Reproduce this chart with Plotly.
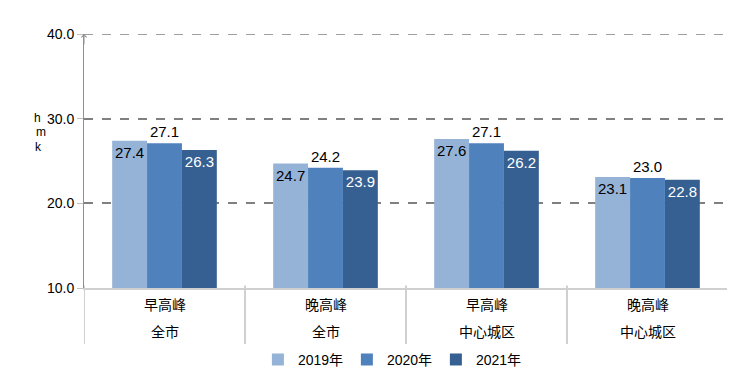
import plotly.graph_objects as go

periods = ["早高峰", "晚高峰", "早高峰", "晚高峰"]
areas = ["全市", "全市", "中心城区", "中心城区"]
years = ["2019年", "2020年", "2021年"]
v2019 = [27.4, 24.7, 27.6, 23.1]
v2020 = [27.1, 24.2, 27.1, 23.0]
v2021 = [26.3, 23.9, 26.2, 22.8]
y_ticks = [10, 20, 30, 40]

colors = ["#95B3D7", "#4F81BD", "#376092"]
FONT = "Liberation Sans, Arial, Noto Sans CJK SC, sans-serif"
xs = list(range(len(periods)))

fig = go.Figure()
series = [v2019, v2020, v2021]
pos = ["inside", "outside", "inside"]
tcol = ["#000000", "#000000", "#FFFFFF"]
for name, vals, c, p, tc in zip(years, series, colors, pos, tcol):
    fig.add_trace(go.Bar(
        x=xs, y=vals, name=name, marker=dict(color=c, line=dict(width=0)),
        text=[f"{v:.1f}" for v in vals], texttemplate="%{text}",
        textposition=p, insidetextanchor="end", textangle=0, cliponaxis=False,
        constraintext="none",
        textfont=dict(size=15, color=tc, family=FONT),
        outsidetextfont=dict(size=15, color=tc, family=FONT),
        insidetextfont=dict(size=15, color=tc, family=FONT),
    ))

L, R, T, B = 76, 15, 26, 104
fig.update_layout(
    width=735, height=384,
    margin=dict(l=L, r=R, t=T, b=B, autoexpand=False),
    paper_bgcolor="white", plot_bgcolor="white",
    barmode="group", bargap=0.35, bargroupgap=0,
    font=dict(family=FONT, size=13, color="#000"),
    legend=dict(orientation="h", x=0.27, xanchor="left", y=-0.22, yanchor="top",
                font=dict(size=14, family=FONT), itemwidth=30, traceorder="normal",
                entrywidth=44, entrywidthmode="pixels", tracegroupgap=0),
    showlegend=True,
)
fig.update_xaxes(range=[-0.5, len(periods) - 0.5], showticklabels=False, showgrid=False,
                 showline=True, linecolor="#D0D0D0", linewidth=2, zeroline=False, ticks="")
fig.update_yaxes(range=[y_ticks[0], y_ticks[-1]], tickvals=y_ticks,
                 ticktext=[f"{t:.1f}" for t in y_ticks],
                 showgrid=True, gridcolor="#808080", griddash="dash", gridwidth=1.5,
                 showline=True, linecolor="#909090", linewidth=1, zeroline=False,
                 ticks="outside", ticklen=6, tickcolor="#C0C0C0",
                 tickfont=dict(size=14, family=FONT))

# top gridline (at the top tick value)
fig.add_shape(type="line", xref="paper", yref="y", x0=0, x1=1, y0=y_ticks[-1], y1=y_ticks[-1],
              line=dict(color="#808080", width=1.5, dash="dash"), layer="above")

for i, (p, a) in enumerate(zip(periods, areas)):
    fig.add_annotation(x=i, y=0, xref="x", yref="paper", text=p, showarrow=False,
                       yanchor="middle", yshift=-16, font=dict(size=14, family="Noto Sans CJK SC"))
    fig.add_annotation(x=i, y=0, xref="x", yref="paper", text=a, showarrow=False,
                       yanchor="middle", yshift=-43, font=dict(size=14, family="Noto Sans CJK SC"))

for k in range(len(periods) + 1):
    fig.add_shape(type="line", xref="x", yref="paper", x0=k - 0.5, x1=k - 0.5,
                  y0=0.01, y1=-0.22, line=dict(color="#D0D0D0", width=2))

# axis arrow tip
fig.add_annotation(x=0, y=1, xref="paper", yref="paper", ax=0, ay=12, showarrow=True,
                   arrowhead=4, arrowsize=1, arrowwidth=1, arrowcolor="#909090", text="")

# garbled unit label (page pixel positions, body offset 8px)
for txt, px, py in [("h", 37, 118), ("m", 41, 132), ("k", 38, 147)]:
    fig.add_annotation(x=0, y=1, xref="paper", yref="paper",
                       xshift=(px - 8) - L, yshift=-((py - 8) - T),
                       yanchor="middle", xanchor="center",
                       text=txt, showarrow=False, font=dict(size=12, family=FONT))

fig.write_html("out.html")
